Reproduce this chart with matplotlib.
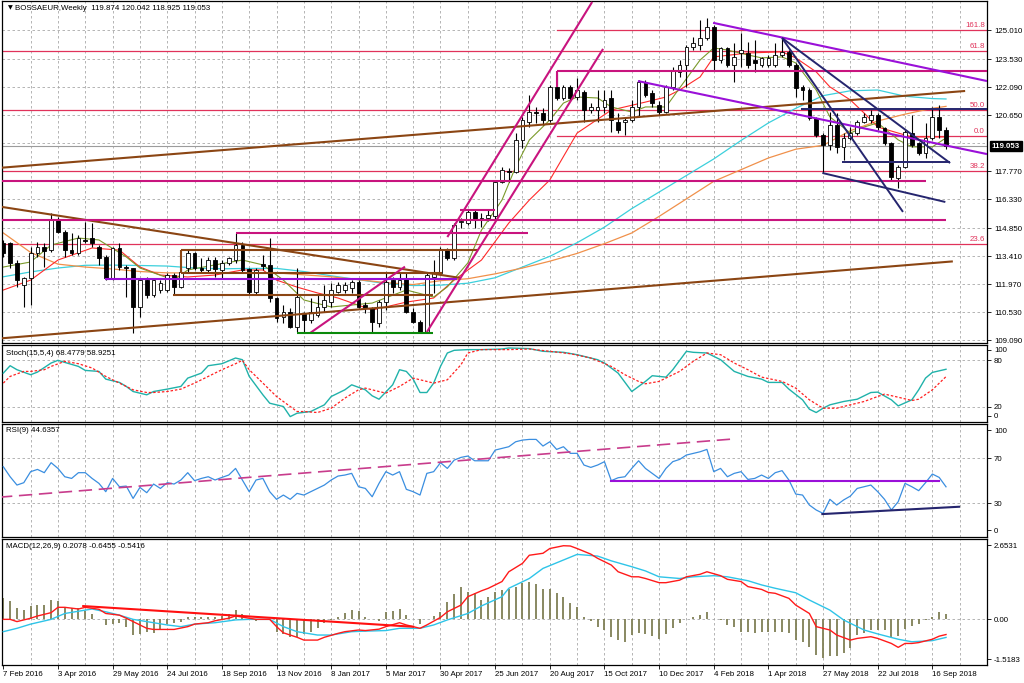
import matplotlib
matplotlib.use("Agg")
import matplotlib.pyplot as plt
from matplotlib.transforms import blended_transform_factory

plt.rcParams['font.family'] = ['Liberation Sans', 'DejaVu Sans']
FS = 5.7

# weekly candles, bar 0 = 7 Feb 2016
opens = [114.07, 114.07, 113.04, 111.93, 112.27, 113.56, 113.90, 113.73, 115.27, 114.67,
         113.73, 113.56, 114.24, 114.33, 113.90, 113.35, 112.27, 113.81, 112.87, 112.79,
         110.82, 112.19, 111.42, 111.67, 111.67, 112.44, 111.84, 112.79, 113.56, 112.79,
         112.70, 113.21, 112.70, 113.04, 113.21, 113.98, 112.73, 111.59, 113.01, 112.96,
         111.24, 110.30, 110.52, 109.79, 110.47, 110.13, 110.39, 110.82, 111.07, 111.59,
         111.67, 111.76, 112.10, 110.90, 110.73, 109.96, 111.07, 112.19, 111.84, 112.27,
         110.56, 110.05, 109.53, 112.36, 112.53, 113.73, 113.30, 115.18, 115.10, 115.70,
         115.30, 115.37, 115.45, 117.24, 117.78, 117.75, 119.38, 120.32, 120.83, 120.75,
         120.40, 122.12, 121.52, 122.12, 121.60, 121.86, 120.92, 120.92, 121.09, 121.52,
         120.32, 120.32, 120.40, 121.09, 122.37, 121.77, 121.17, 120.83, 122.12, 122.88,
         123.23, 124.17, 124.25, 124.60, 125.20, 123.48, 124.08, 123.23, 123.83, 123.83,
         123.48, 123.23, 123.23, 123.23, 123.74, 123.91, 123.23, 122.12, 121.94, 120.49,
         119.63, 119.12, 120.15, 119.03, 119.46, 119.72, 120.32, 120.40, 120.66, 119.97,
         119.20, 117.41, 118.01, 119.72, 119.20, 118.69, 119.46, 120.57, 119.874]
highs = [114.24, 114.16, 113.21, 112.36, 113.90, 114.16, 114.07, 115.61, 115.44, 114.75,
         114.58, 114.50, 115.18, 115.10, 113.98, 113.47, 113.90, 114.07, 112.96, 112.79,
         112.27, 112.36, 112.27, 112.19, 112.53, 112.53, 112.79, 113.73, 113.64, 113.30,
         113.38, 113.38, 113.21, 113.38, 114.58, 114.16, 112.79, 112.79, 113.47, 114.33,
         111.33, 110.90, 110.73, 112.79, 110.56, 111.24, 111.42, 111.93, 112.02, 112.10,
         112.10, 112.19, 112.19, 111.07, 110.82, 111.16, 112.53, 112.36, 112.53, 112.53,
         110.73, 110.13, 112.53, 113.21, 113.90, 113.81, 115.10, 115.35, 115.78, 115.78,
         115.60, 115.85, 117.32, 118.01, 117.92, 119.72, 120.57, 121.69, 121.09, 121.00,
         122.20, 122.80, 122.20, 122.20, 122.54, 121.94, 121.26, 121.94, 121.94, 121.94,
         120.75, 120.49, 121.43, 122.46, 122.46, 121.94, 121.35, 122.20, 123.14, 123.48,
         124.25, 124.68, 125.54, 125.62, 125.28, 124.17, 124.17, 124.34, 124.85, 124.43,
         124.51, 123.66, 123.74, 124.34, 124.60, 124.00, 123.31, 122.20, 122.03, 120.57,
         119.72, 120.83, 120.75, 119.72, 120.06, 120.40, 120.75, 120.92, 120.75, 120.06,
         119.29, 118.09, 119.89, 120.66, 119.29, 120.23, 121.09, 121.17, 120.042]
lows = [113.38, 112.79, 111.84, 110.82, 110.90, 113.38, 112.87, 113.64, 114.58, 113.38,
        113.47, 113.47, 114.10, 113.90, 112.96, 112.19, 112.19, 112.70, 111.33, 109.45,
        110.30, 111.24, 111.33, 111.50, 111.59, 111.42, 111.76, 112.53, 112.70, 112.61,
        112.53, 112.36, 112.27, 112.96, 113.04, 112.53, 111.42, 111.42, 112.70, 111.07,
        110.05, 109.96, 109.70, 109.53, 109.53, 109.96, 110.30, 110.56, 110.82, 111.50,
        111.50, 111.50, 110.73, 110.47, 109.53, 109.79, 110.64, 111.50, 111.67, 110.47,
        109.96, 109.45, 109.45, 111.50, 112.44, 113.21, 113.21, 114.84, 115.01, 114.84,
        114.90, 115.20, 115.27, 117.15, 117.24, 117.66, 118.95, 120.06, 120.23, 120.15,
        120.32, 121.43, 121.43, 121.43, 121.43, 120.32, 120.75, 120.32, 120.75, 119.80,
        119.72, 119.63, 120.32, 120.57, 121.60, 121.09, 120.66, 120.75, 121.94, 122.63,
        122.12, 124.00, 124.00, 124.51, 122.97, 123.31, 123.14, 122.37, 123.14, 123.06,
        122.88, 123.14, 123.14, 123.14, 123.66, 123.14, 121.60, 121.43, 120.40, 119.55,
        117.68, 118.86, 118.69, 118.35, 119.38, 119.63, 120.23, 120.23, 119.89, 119.12,
        117.32, 116.89, 117.92, 119.03, 118.61, 118.43, 119.38, 119.46, 118.925]
closes = [113.56, 113.04, 112.19, 112.27, 113.56, 113.90, 113.69, 115.27, 114.67, 113.73,
          113.56, 114.33, 114.20, 114.07, 113.30, 112.27, 113.81, 112.84, 112.79, 110.82,
          112.19, 111.42, 112.19, 112.02, 112.44, 111.84, 112.61, 113.56, 112.79, 112.70,
          113.21, 112.73, 113.04, 113.30, 113.98, 112.70, 111.59, 112.70, 112.91, 111.24,
          110.22, 110.56, 109.79, 111.33, 110.13, 110.56, 110.82, 111.16, 111.67, 111.93,
          111.93, 112.10, 110.82, 110.73, 110.05, 111.07, 112.10, 111.84, 112.19, 110.56,
          110.05, 109.53, 112.44, 112.53, 113.73, 113.30, 115.01, 115.23, 115.70, 115.27,
          115.35, 115.50, 117.24, 117.83, 117.72, 119.38, 120.40, 120.83, 120.75, 120.40,
          122.12, 121.52, 122.12, 121.52, 121.94, 120.92, 121.09, 121.09, 121.43, 120.40,
          119.89, 120.40, 121.09, 122.37, 121.69, 121.26, 120.83, 122.12, 122.97, 123.23,
          124.17, 124.34, 124.60, 125.20, 123.48, 124.08, 123.23, 123.66, 124.00, 123.23,
          123.31, 123.57, 123.57, 123.74, 123.91, 123.23, 122.03, 121.94, 120.49, 119.63,
          119.12, 120.15, 119.03, 119.46, 119.72, 120.32, 120.57, 120.66, 120.06, 119.20,
          117.49, 118.01, 119.80, 119.12, 118.69, 119.46, 120.57, 119.89, 119.053]

date_labels = ["7 Feb 2016", "3 Apr 2016", "29 May 2016", "24 Jul 2016", "18 Sep 2016",
               "13 Nov 2016", "8 Jan 2017", "5 Mar 2017", "30 Apr 2017", "25 Jun 2017",
               "20 Aug 2017", "15 Oct 2017", "10 Dec 2017", "4 Feb 2018", "1 Apr 2018",
               "27 May 2018", "22 Jul 2018", "16 Sep 2018"]

# moving averages (bar index, price)
ma_fast_x = [0, 4, 7, 11, 14, 18, 20, 25, 27, 31, 35, 38, 41, 44, 48, 54, 59, 63, 65, 68,
             70, 73, 75, 77, 80, 82, 84, 87, 89, 92, 94, 97, 99, 102, 104, 106, 109, 111, 114, 116,
             119, 121, 124, 126, 128, 131, 133, 136, 138]
ma_fast = [112.85, 113.11, 113.98, 114.34, 114.24, 113.37, 112.80, 112.18, 112.70, 112.96,
           113.21, 112.96, 112.18, 111.16, 110.80, 111.00, 111.67, 111.31, 111.83, 113.06,
           114.75, 116.29, 117.99, 119.37, 120.40, 121.27, 121.58, 121.53, 121.07, 120.81,
           121.07, 121.07, 122.04, 123.48, 124.10, 123.99, 123.74, 123.59, 123.64, 123.33,
           121.94, 120.56, 119.73, 120.04, 120.25, 119.38, 119.02, 119.02, 119.48]
ma_mid_x = [0, 4, 8, 13, 17, 20, 23, 27, 31, 35, 38, 40, 43, 46, 49, 54, 59, 63, 66, 70,
            74, 77, 80, 84, 89, 94, 97, 99, 102, 104, 109, 114, 116, 119, 121, 124, 126, 128, 131, 133,
            138]
ma_mid = [111.67, 112.18, 113.21, 113.83, 113.72, 112.85, 112.44, 112.34, 112.44, 112.70,
          112.70, 112.18, 111.82, 111.52, 111.26, 110.64, 111.05, 111.26, 112.18, 113.21,
          115.11, 116.29, 117.32, 119.73, 120.91, 121.32, 121.58, 121.94, 122.61, 123.64,
          123.84, 123.90, 123.59, 122.87, 122.10, 121.43, 120.76, 120.04, 119.73, 119.53,
          119.53]
ma_slow_x = [0, 4, 8, 12, 16, 20, 24, 28, 32, 36, 40, 44, 48, 52, 56, 60, 64, 68, 72, 76,
             80, 84, 88, 92, 96, 100, 104, 108, 112, 116, 120, 124, 128, 132, 136, 138]
ma_cyan = [112.35, 112.60, 112.80, 112.94, 112.95, 112.93, 112.90, 112.80, 112.76, 112.78,
           112.78, 112.62, 112.40, 112.20, 112.00, 111.90, 111.92, 112.02, 112.30, 112.85,
           113.40, 114.10, 114.90, 115.85, 116.70, 117.55, 118.40, 119.35, 120.25, 121.00,
           121.65, 121.90, 121.94, 121.62, 121.50, 121.48]
ma_orange = [114.60, 113.60, 113.00, 112.85, 112.75, 112.62, 112.55, 112.55, 112.55, 112.55,
             112.55, 112.45, 112.35, 112.20, 112.05, 111.95, 112.15, 112.25, 112.50, 112.80,
             113.15, 113.55, 114.05, 114.60, 115.45, 116.35, 117.25, 117.85, 118.45, 118.90,
             119.10, 119.85, 120.35, 120.70, 121.00, 121.10]

# Stoch(15,5,4)
stoch_k_x = [0, 1, 2, 4, 5, 7, 8, 9, 11, 12, 14, 15, 17, 18, 19, 21, 22, 24, 26, 27,
             29, 30, 32, 34, 35, 36, 38, 39, 41, 42, 43, 45, 47, 48, 50, 51, 53, 54, 55, 57,
             58, 59, 60, 61, 62, 63, 64, 65, 66, 68, 70, 73, 74, 77, 79, 82, 84, 87, 88, 90,
             92, 94, 95, 97, 98, 100, 101, 103, 105, 107, 109, 111, 112, 114, 115, 117, 118, 119, 120, 121,
             123, 125, 127, 128, 130, 131, 133, 134, 135, 136, 138]
stoch_k = [63.5, 73.1, 67.9, 61.4, 64.8, 76.6, 80.1, 77.4, 72.2, 67.0, 65.7, 55.7, 51.4, 46.2, 39.6,
           35.3, 39.6, 42.7, 46.2, 57.0, 63.5, 73.1, 75.7, 83.1, 80.9, 59.2, 35.3, 24.4, 20.1, 7.0,
           11.4, 13.6, 22.3, 33.1, 41.8, 48.3, 41.8, 34.0, 29.6, 48.3, 67.9, 65.7, 55.7, 38.3, 38.3,
           50.5, 72.2, 89.6, 93.1, 94.0, 94.0, 94.8, 96.1, 95.3, 91.8, 90.5, 87.4, 80.9, 76.6, 63.5,
           39.6, 52.7, 60.1, 58.3, 67.9, 91.8, 90.5, 89.6, 80.9, 65.7, 59.2, 55.7, 51.4, 51.4, 42.7,
           28.8, 16.6, 12.3, 17.9, 22.3, 26.6, 29.6, 38.3, 38.8, 28.8, 20.9, 28.8, 41.8, 57.0, 64.4,
           68.48]
stoch_d_x = [0, 1, 3, 4, 6, 7, 9, 11, 13, 15, 17, 19, 21, 22, 24, 26, 28, 30, 32, 34,
             35, 36, 38, 40, 42, 43, 44, 46, 48, 50, 52, 53, 55, 56, 58, 60, 62, 63, 65, 67,
             68, 70, 72, 74, 77, 80, 83, 86, 89, 91, 93, 94, 96, 99, 101, 103, 105, 107, 109, 111,
             114, 116, 118, 120, 122, 124, 126, 128, 129, 131, 133, 134, 136, 138]
stoch_d = [50.5, 59.2, 65.7, 65.7, 67.9, 72.2, 78.8, 75.7, 70.1, 59.2, 50.5, 41.8, 38.3, 38.3, 39.6,
           42.7, 50.5, 59.2, 67.9, 75.7, 80.1, 67.9, 50.5, 33.1, 20.1, 13.6, 13.6, 12.3, 17.9, 31.0,
           41.8, 44.0, 39.6, 37.5, 46.2, 57.0, 52.7, 50.5, 54.8, 74.4, 89.6, 94.0, 94.0, 94.0, 94.8,
           91.8, 88.7, 83.1, 72.2, 61.4, 52.7, 49.6, 52.7, 65.7, 78.8, 89.6, 87.4, 76.6, 67.9, 58.3,
           52.7, 44.0, 28.8, 17.9, 17.9, 22.3, 26.6, 33.1, 36.2, 32.2, 27.9, 29.6, 41.8, 58.93]

# RSI(9), one value per bar
rsi = [62.5, 53.6, 46.2, 48.3, 58.1, 60.1, 57.2, 66.1, 61.0, 53.6,
       52.1, 57.2, 57.2, 52.1, 47.7, 40.3, 52.1, 44.7, 45.3, 34.3,
       44.1, 39.4, 47.1, 43.2, 48.3, 47.1, 50.7, 57.2, 50.1, 52.1,
       53.6, 50.7, 53.0, 55.1, 61.0, 50.7, 40.3, 50.7, 52.1, 40.3,
       33.5, 37.3, 33.5, 38.8, 37.3, 40.3, 43.2, 46.2, 50.7, 54.2,
       55.1, 56.6, 44.7, 43.2, 35.8, 47.7, 58.1, 55.1, 58.1, 42.4,
       40.3, 37.3, 56.6, 58.1, 66.1, 61.0, 68.4, 70.8, 72.0, 67.8,
       67.8, 67.8, 77.3, 78.8, 80.3, 84.7, 86.2, 86.8, 86.8, 80.9,
       84.7, 77.9, 80.3, 74.4, 74.4, 64.0, 61.9, 64.0, 67.0, 50.1,
       52.7, 53.6, 61.0, 67.8, 61.0, 56.6, 52.1, 61.0, 67.0, 69.0,
       72.9, 74.4, 75.8, 77.9, 58.1, 61.0, 53.6, 56.6, 58.1, 51.2,
       52.1, 55.1, 52.1, 57.2, 59.0, 50.7, 38.2, 37.3, 28.4, 24.0,
       21.0, 33.5, 28.4, 32.9, 36.4, 43.2, 44.7, 46.2, 40.3, 33.5,
       24.0, 31.4, 47.7, 44.7, 41.2, 48.3, 56.0, 53.0, 44.64]

# MACD(12,26,9)
macd_hist = [0.75, 0.67, 0.39, 0.33, 0.48, 0.51, 0.51, 0.69, 0.67, 0.45,
             0.39, 0.39, 0.31, 0.19, 0.00, -0.20, -0.17, -0.14, -0.29, -0.56,
             -0.52, -0.44, -0.50, -0.38, -0.17, -0.12, -0.08, 0.07, 0.07, 0.07,
             0.07, 0.07, 0.12, 0.19, 0.33, 0.19, 0.00, -0.05, 0.00, 0.00,
             -0.44, -0.52, -0.64, -0.64, -0.52, -0.44, -0.32, -0.14, -0.02, 0.10,
             0.21, 0.33, 0.31, 0.07, 0.00, -0.05, 0.27, 0.31, 0.36, 0.15,
             0.00, -0.17, 0.00, 0.12, 0.27, 0.63, 0.90, 1.17, 0.99, 0.95,
             0.69, 0.81, 0.99, 1.05, 1.07, 1.17, 1.29, 1.35, 1.26, 1.07,
             1.07, 0.93, 0.81, 0.60, 0.43, 0.07, -0.05, -0.26, -0.38, -0.64,
             -0.74, -0.80, -0.56, -0.50, -0.52, -0.60, -0.71, -0.52, -0.32, -0.14,
             0.00, 0.07, 0.15, 0.27, 0.00, -0.02, -0.20, -0.26, -0.44, -0.44,
             -0.48, -0.44, -0.44, -0.44, -0.44, -0.50, -0.74, -0.80, -1.00, -1.27,
             -1.39, -1.31, -1.31, -1.21, -1.03, -0.56, -0.50, -0.38, -0.38, -0.38,
             -0.62, -0.60, -0.36, -0.24, -0.17, -0.02, 0.07, 0.27, 0.2078]
macd_main_x = [0, 1, 2, 4, 5, 7, 8, 9, 11, 12, 14, 15, 17, 18, 20, 21, 22, 24, 25, 27,
               28, 30, 31, 33, 34, 36, 37, 39, 40, 41, 43, 44, 46, 47, 49, 50, 52, 53, 55, 56,
               58, 59, 61, 62, 64, 65, 67, 68, 70, 71, 73, 74, 76, 77, 79, 80, 82, 83, 84, 86,
               87, 89, 90, 92, 93, 94, 96, 97, 99, 100, 102, 103, 105, 106, 108, 109, 111, 112, 113, 115,
               116, 118, 119, 121, 122, 124, 125, 127, 128, 130, 131, 132, 133, 134, 136, 137, 138]
macd_main = [0.00, 0.00, -0.08, 0.04, 0.12, 0.24, 0.43, 0.43, 0.37, 0.43,
             0.36, 0.21, 0.15, 0.04, -0.20, -0.32, -0.36, -0.36, -0.36, -0.26,
             -0.17, -0.12, -0.05, 0.04, 0.12, 0.04, 0.00, 0.00, -0.26, -0.48,
             -0.64, -0.74, -0.74, -0.64, -0.50, -0.44, -0.38, -0.40, -0.35, -0.26,
             -0.12, -0.20, -0.32, -0.20, 0.07, 0.27, 0.51, 0.81, 1.02, 1.11,
             1.35, 1.70, 2.00, 2.29, 2.36, 2.53, 2.63, 2.62, 2.53, 2.33,
             2.18, 1.94, 1.70, 1.52, 1.52, 1.46, 1.31, 1.31, 1.40, 1.52,
             1.61, 1.70, 1.56, 1.43, 1.35, 1.17, 1.07, 0.96, 0.93, 0.75,
             0.51, 0.21, -0.26, -0.38, -0.56, -0.74, -0.68, -0.62, -0.68, -0.86,
             -1.00, -0.86, -0.86, -0.83, -0.71, -0.60, -0.5416]
macd_sig_x = [0, 2, 4, 7, 9, 12, 13, 15, 17, 19, 21, 24, 26, 28, 31, 34, 36, 39, 41, 43,
              46, 48, 51, 53, 56, 58, 61, 63, 65, 68, 70, 73, 74, 77, 79, 82, 84, 87, 89, 92,
              94, 96, 99, 101, 104, 106, 109, 111, 113, 116, 118, 121, 123, 126, 128, 131, 133, 136, 138]
macd_sig = [-0.44, -0.32, -0.17, 0.00, 0.21, 0.33, 0.37, 0.27, 0.15, 0.00,
            -0.08, -0.20, -0.26, -0.17, -0.12, -0.02, 0.00, 0.00, -0.26, -0.44,
            -0.56, -0.56, -0.44, -0.42, -0.40, -0.32, -0.32, -0.20, -0.02, 0.21,
            0.48, 0.81, 1.11, 1.46, 1.82, 2.12, 2.32, 2.26, 2.09, 1.88,
            1.73, 1.52, 1.46, 1.52, 1.56, 1.52, 1.38, 1.23, 1.11, 0.95,
            0.69, 0.33, -0.02, -0.38, -0.52, -0.71, -0.80, -0.76, -0.6455]

# drawn objects, (bar0, price0, bar1, price1)
fib_levels = [("161.8", 125.00, 81), ("61.8", 123.95, -1), ("50.0", 120.92, -1),
              ("0.0", 119.58, 81), ("38.2", 117.78, -1), ("23.6", 114.03, -1)]
magenta_lines = [(81, 122.94, 144, 122.94), (81, 122.94, 81, 122.10), (-1, 117.27, 135, 117.27),
                 (-1, 115.27, 138, 115.27), (34, 114.61, 76.8, 114.61), (66.9, 115.78, 72, 115.78),
                 (62.0, 109.51, 87.8, 124.05), (65.0, 114.39, 86.2, 126.46), (44.9, 109.46, 58.8, 112.87)]
purple_lines = [(14.9, 112.24, 66.4, 112.24), (92.9, 122.40, 144, 118.65), (103.9, 125.39, 144, 122.40)]
navy_lines = [(114.0, 124.61, 138.6, 118.19), (114.0, 124.61, 131.7, 115.68),
              (119.9, 117.68, 137.9, 116.19), (122.8, 118.26, 138.6, 118.26), (116.8, 120.94, 144, 120.94)]
brown_lines = [(-1, 117.93, 140.8, 121.89), (-1, 109.17, 139.0, 113.14), (-1, 115.98, 66.9, 112.29),
               (26, 113.73, 69.5, 113.73), (26, 112.54, 64.2, 112.54), (24.8, 111.41, 62.9, 111.41),
               (26, 113.73, 26, 112.54)]
green_lines = [(43, 109.46, 62.9, 109.46)]
rsi_lines = [(-1, 35.2, 106.7, 87.1), (88.9, 50.0, 137, 50.0), (119.9, 20.4, 139.9, 26.9)]
macd_lines = [(11.7, 0.475, 60.0, -0.264)]

price_ticks = [125.010, 123.530, 122.090, 120.650, 117.770, 116.330, 114.850, 113.410, 111.970, 110.530, 109.090]
last_price = 119.053

W, H = 1024, 683
fig = plt.figure(figsize=(W / 100, H / 100), dpi=100)


def panel(top, bottom):
    return fig.add_axes([2 / W, 1 - bottom / H, (987 - 2) / W, (bottom - top) / H])


ax = panel(1, 343)
ax_st = panel(345, 422)
ax_rsi = panel(424, 537)
ax_macd = panel(539, 665)
axes = [ax, ax_st, ax_rsi, ax_macd]

grid_kw = dict(color='#a8a8a8', lw=0.6, ls=(0, (3, 3)), zorder=0.5)
for a in axes:
    a.set_xlim(-0.19, 144.0)
    for b in range(4, 144, 4):
        a.axvline(b, **grid_kw)
    a.set_xticks([])
    a.yaxis.tick_right()
    a.tick_params(axis='y', length=3, width=0.6, pad=2, labelsize=FS)
    for s in a.spines.values():
        s.set_linewidth(0.9)

# ---- main price panel
ax.set_ylim(108.95, 126.51)
ax.set_yticks(price_ticks)
ax.set_yticklabels([f"{v:.3f}" for v in price_ticks])
for v in price_ticks + [119.21]:
    ax.axhline(v, **grid_kw)

for lab, lvl, start in fib_levels:
    ax.plot([start, 144], [lvl, lvl], color='#e0325a', lw=0.9, zorder=1.5)
    ax.text(143.7, lvl + 0.05, lab, color='#e0325a', fontsize=FS, ha='right', va='bottom', zorder=6)
ax.axhline(last_price, color='#9c9c9c', lw=0.8, zorder=1.4)

ax.plot(ma_slow_x, ma_cyan, color='#3cd0dc', lw=0.9, zorder=2)
ax.plot(ma_slow_x, ma_orange, color='#f0904a', lw=0.9, zorder=2)
ax.plot(ma_mid_x, ma_mid, color='#ff2a2a', lw=0.8, zorder=2)
ax.plot(ma_fast_x, ma_fast, color='#7a9a2a', lw=0.8, zorder=2)

for i in range(len(closes)):
    o, h, l, c = opens[i], highs[i], lows[i], closes[i]
    ax.vlines(i, l, h, color='black', lw=0.8, zorder=3)
    body = max(abs(c - o), 0.035)
    ax.bar(i, body, bottom=min(o, c), width=0.55,
           facecolor='white' if c >= o else 'black', edgecolor='black', lw=0.6, zorder=3.5)

for group, col, lw in [(brown_lines, '#8b4513', 1.5), (magenta_lines, '#c8147e', 1.5),
                       (purple_lines, '#9a10d8', 1.5), (navy_lines, '#25256e', 1.4),
                       (green_lines, '#0a8a0a', 1.5)]:
    for x0, y0, x1, y1 in group:
        ax.plot([x0, x1], [y0, y1], color=col, lw=lw, solid_capstyle='butt', zorder=4)

bt = blended_transform_factory(ax.transAxes, ax.transData)
ax.text(1.005, last_price, f"{last_price:.3f}", transform=bt, fontsize=FS, color='white',
        va='center', ha='left', fontweight='bold',
        bbox=dict(boxstyle='square,pad=0.2', fc='black', ec='black'), zorder=7, clip_on=False)

# ---- stochastic
ax_st.set_ylim(0, 100)
for v in (20, 80):
    ax_st.axhline(v, **grid_kw)
ax_st.set_yticks([94, 80, 20, 8])
ax_st.set_yticklabels(['100', '80', '20', '0'])
ax_st.plot(stoch_k_x, stoch_k, color='#20b2aa', lw=1.0, zorder=3)
ax_st.plot(stoch_d_x, stoch_d, color='#ff2020', lw=0.9, ls=(0, (2, 1.5)), zorder=3)

# ---- RSI
ax_rsi.set_ylim(0, 100.5)
for v in (30, 70):
    ax_rsi.axhline(v, **grid_kw)
ax_rsi.set_yticks([95, 70, 30, 6])
ax_rsi.set_yticklabels(['100', '70', '30', '0'])
ax_rsi.plot(range(len(rsi)), rsi, color='#3a8ee0', lw=0.9, zorder=3)
x0, y0, x1, y1 = rsi_lines[0]
ax_rsi.plot([x0, x1], [y0, y1], color='#c83c8c', lw=1.2, ls=(0, (8, 4)), zorder=4)
x0, y0, x1, y1 = rsi_lines[1]
ax_rsi.plot([x0, x1], [y0, y1], color='#9a10d8', lw=1.5, zorder=4)
x0, y0, x1, y1 = rsi_lines[2]
ax_rsi.plot([x0, x1], [y0, y1], color='#25256e', lw=1.5, zorder=4)

# ---- MACD
ax_macd.set_ylim(-1.63, 2.87)
ax_macd.axhline(0, **grid_kw)
ax_macd.set_yticks([2.6531, 0.0, -1.42])
ax_macd.set_yticklabels(['2.6531', '0.00', '-1.5183'])
ax_macd.vlines(range(len(macd_hist)), 0, macd_hist, color='#7f7f55', lw=1.3, zorder=2)
ax_macd.plot(macd_sig_x, macd_sig, color='#2ec4e8', lw=1.0, zorder=3)
ax_macd.plot(macd_main_x, macd_main, color='#ff1a1a', lw=1.0, zorder=3)
for x0, y0, x1, y1 in macd_lines:
    ax_macd.plot([x0, x1], [y0, y1], color='#ff1010', lw=1.5, zorder=4)

ax_macd.set_xticks(range(0, 8 * len(date_labels), 8))
ax_macd.set_xticklabels(date_labels)
ax_macd.tick_params(axis='x', length=3, width=0.6, pad=1.5, labelsize=FS)
for t in ax_macd.get_xticklabels():
    t.set_ha('left')

# ---- panel captions
fig.text(8 / W, 1 - 8 / H, "\u25bc", fontsize=4.5, va='center', ha='left', family='DejaVu Sans')
fig.text(15 / W, 1 - 8 / H, "BOSSAEUR,Weekly  119.874 120.042 118.925 119.053",
         fontsize=FS, va='center', ha='left')
fig.text(6 / W, 1 - 353 / H, "Stoch(15,5,4) 68.4779 58.9251", fontsize=FS, va='center', ha='left')
fig.text(6 / W, 1 - 431 / H, "RSI(9) 44.6357", fontsize=FS, va='center', ha='left')
fig.text(6 / W, 1 - 546 / H, "MACD(12,26,9) 0.2078 -0.6455 -0.5416", fontsize=FS, va='center', ha='left')

fig.savefig("out.png", dpi=100, facecolor='white')
